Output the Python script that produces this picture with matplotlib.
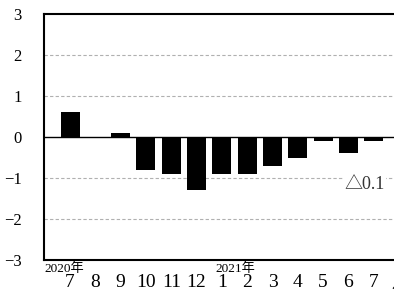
import matplotlib
matplotlib.use("Agg")
import matplotlib.pyplot as plt
import matplotlib.transforms as mtransforms

months = ["7", "8", "9", "10", "11", "12", "1", "2", "3", "4", "5", "6", "7"]
values = [0.6, 0.0, 0.1, -0.8, -0.9, -1.3, -0.9, -0.9, -0.7, -0.5, -0.1, -0.4, -0.1]
year_labels = {0: "2020年", 6: "2021年"}
yticks = [-3, -2, -1, 0, 1, 2, 3]
note = "△0.1"

serif = ["Liberation Serif", "Noto Sans CJK JP", "DejaVu Sans"]

fig = plt.figure(figsize=(3.94, 2.97), dpi=100)
ax = fig.add_axes([44 / 394, 1 - 260 / 297, (404 - 44) / 394, (260 - 14) / 297])

x = list(range(len(values)))
ax.bar(x, values, width=0.75, color="black", zorder=3)
ax.axhline(0, color="black", linewidth=1.0, zorder=2)
for g in [-2, -1, 1, 2]:
    ax.axhline(g, color="#b0b0b0", linewidth=0.8, linestyle=(0, (3, 2)), zorder=1)

ax.set_xlim(-1.03, 13.2)
ax.set_ylim(-3, 3)
ax.set_yticks(yticks)
ax.set_yticklabels([str(t).replace("-", "\u2212") for t in yticks], family=serif, fontsize=12)
ax.tick_params(axis="y", length=0, pad=16)

ax.set_xticks(x)
ax.set_xticklabels(months, family=serif, fontsize=14)
ax.tick_params(axis="x", length=0, pad=10)

for s in ["left", "top", "bottom"]:
    ax.spines[s].set_linewidth(1.5)
ax.spines["right"].set_visible(False)

trans = mtransforms.blended_transform_factory(ax.transData, ax.transAxes)
for i, lab in year_labels.items():
    xpos = -1.0 if i == 0 else i - 0.27
    ax.text(xpos, -0.008, lab, transform=trans, ha="left", va="top",
            family=["Liberation Serif", "Noto Sans CJK JP"], fontsize=9.5)

ax.text(12.45, -1.15, note, ha="right", va="center", family=serif, fontsize=13,
        color="#333333", zorder=4, bbox=dict(facecolor="white", edgecolor="none", pad=0.5))

fig.text(391 / 394, 1 - 283 / 297, "月", ha="left", va="center",
         family=["Noto Sans CJK JP"], fontsize=12)

fig.savefig("out.png", dpi=100)
